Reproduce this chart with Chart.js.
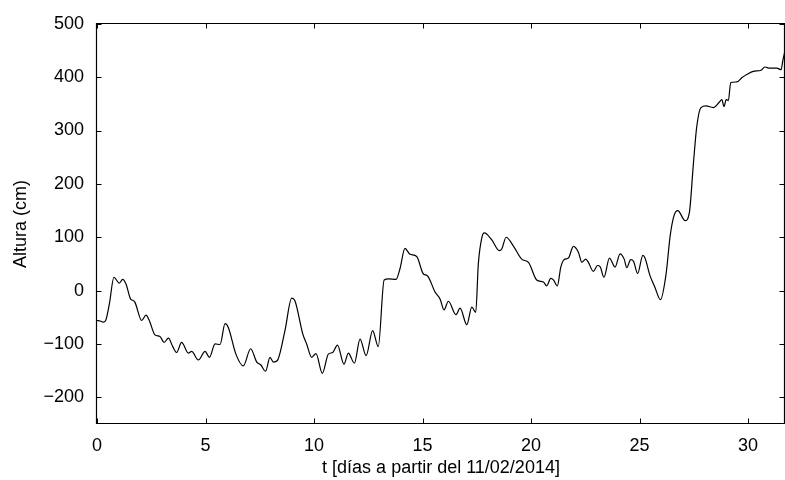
<!DOCTYPE html>
<html>
<head>
<meta charset="utf-8">
<script src="https://cdn.jsdelivr.net/npm/chart.js@4/dist/chart.umd.min.js"></script>
<style>
  html, body { margin: 0; padding: 0; background: #fff; }
  #wrap { width: 785px; height: 480px; }
</style>
</head>
<body>
<div id="wrap"><canvas id="c" width="785" height="480"></canvas></div>
<script>
// ---- data ----
const tDays = [
  0, 0.15, 0.29, 0.4, 0.57, 0.78, 1.03, 1.18, 1.34, 1.55, 1.65, 1.75, 2.06, 2.26, 2.41, 2.67, 2.9, 3.09, 3.29, 3.49,
  3.67, 3.9, 4.21, 4.36, 4.67, 4.98, 5.18, 5.44, 5.67, 5.9, 6.05, 6.4, 6.74, 7.08, 7.36, 7.54, 7.77, 7.97, 8.13, 8.31,
  8.66, 8.97, 9.12, 9.48, 9.66, 9.89, 10.09, 10.38, 10.66, 10.86, 11.08, 11.38, 11.58, 11.86, 12.12, 12.4, 12.7, 12.96, 13.23, 13.43,
  13.78, 13.96, 14.19, 14.42, 14.73, 15.04, 15.22, 15.58, 15.81, 15.99, 16.19, 16.54, 16.73, 17.04, 17.27, 17.45, 17.57, 17.73, 17.85, 18.19,
  18.54, 18.65, 18.85, 19.18, 19.57, 19.88, 20.26, 20.57, 20.72, 20.91, 21.03, 21.21, 21.37, 21.52, 21.72, 21.95, 22.18, 22.34, 22.52, 22.64,
  22.87, 23.06, 23.18, 23.36, 23.61, 23.87, 24.1, 24.29, 24.41, 24.59, 24.72, 24.91, 25.15, 25.25, 25.48, 25.71, 25.96, 26.22, 26.41, 26.59,
  26.76, 27.1, 27.29, 27.48, 27.63, 27.83, 28.06, 28.4, 28.67, 28.79, 28.89, 28.99, 29.09, 29.2, 29.48, 29.71, 29.94, 30.24, 30.6, 30.77,
  31.0, 31.32, 31.52, 31.6, 31.7
];
const alturaCm = [
  -56, -57, -59, -56, -25, 25, 14, 21, 12, -16, -18, -22, -56, -46, -56, -83, -86, -97, -89, -105,
  -116, -97, -117, -114, -130, -114, -125, -100, -101, -62, -69, -119, -141, -109, -134, -139, -151, -125, -134, -131,
  -75, -14, -19, -81, -100, -125, -118, -155, -119, -116, -102, -138, -117, -136, -91, -122, -75, -105, 20, 22,
  21, 41, 79, 68, 64, 31, 28, -3, -16, -36, -20, -45, -33, -64, -31, -41, 50, 99, 108, 95,
  75, 78, 100, 84, 59, 53, 20, 16, 9, 23, 20, 9, 44, 58, 61, 83, 72, 53, 59, 53,
  36, 47, 45, 25, 61, 44, 69, 59, 43, 58, 55, 32, 66, 61, 28, 6, -17, 31, 103, 141,
  150, 131, 145, 238, 306, 343, 346, 343, 353, 358, 345, 358, 356, 390, 391, 399, 405, 411, 413, 419,
  417, 417, 414, 431, 450
];
const xTickValues = [0, 5, 10, 15, 20, 25, 30];
const yTickValues = [-200, -100, 0, 100, 200, 300, 400, 500];
const xTitle = 't [días a partir del 11/02/2014]';
const yTitle = 'Altura (cm)';

const FONT = "'Liberation Sans', Arial, Helvetica, sans-serif";

const framePlugin = {
  id: 'frame',
  afterDraw(chart) {
    const ctx = chart.ctx;
    const a = chart.chartArea;
    const xs = chart.scales.x, ys = chart.scales.y;
    const L = Math.round(a.left) - 0.5, R = Math.min(Math.round(a.right), 785) - 0.5;
    const T = Math.round(a.top) - 0.5, B = Math.round(a.bottom) - 0.5;
    ctx.save();
    ctx.strokeStyle = '#000';
    ctx.lineWidth = 1.2;
    ctx.beginPath();
    ctx.moveTo(L, T); ctx.lineTo(R, T); ctx.lineTo(R, B); ctx.lineTo(L, B); ctx.closePath();
    ctx.stroke();
    ctx.lineWidth = 1;
    const tl = 5;
    ctx.beginPath();
    xs.ticks.forEach(t => {
      const p = Math.round(xs.getPixelForValue(t.value)) + 0.5;
      ctx.moveTo(p, B); ctx.lineTo(p, B - tl);
      ctx.moveTo(p, T); ctx.lineTo(p, T + tl);
    });
    ys.ticks.forEach(t => {
      const p = Math.round(ys.getPixelForValue(t.value)) + 0.5;
      ctx.moveTo(L, p); ctx.lineTo(L + tl, p);
      ctx.moveTo(R, p); ctx.lineTo(R - tl, p);
    });
    ctx.stroke();
    ctx.restore();
  }
};

new Chart(document.getElementById('c'), {
  type: 'line',
  data: {
    datasets: [{
      data: tDays.map((t, i) => ({ x: t, y: alturaCm[i] })),
      borderColor: '#000',
      borderWidth: 1.2,
      pointRadius: 0,
      cubicInterpolationMode: 'monotone',
      fill: false
    }]
  },
  options: {
    responsive: false,
    animation: false,
    events: [],
    layout: { padding: { top: 23, right: 0, left: 0, bottom: 0 } },
    plugins: { legend: { display: false }, tooltip: { enabled: false } },
    scales: {
      x: {
        type: 'linear',
        min: 0,
        max: 31.7,
        afterBuildTicks: s => { s.ticks = xTickValues.map(v => ({ value: v })); },
        afterFit: s => { s.height = 56; },
        grid: { display: false, drawTicks: false },
        border: { display: false },
        ticks: {
          color: '#000',
          padding: 11,
          maxRotation: 0,
          font: { family: FONT, size: 18 },
          callback: v => String(v)
        },
        title: {
          display: true,
          text: xTitle,
          color: '#000',
          font: { family: FONT, size: 18 },
          padding: { top: 0, bottom: 1 }
        }
      },
      y: {
        min: -250,
        max: 500,
        afterBuildTicks: s => { s.ticks = yTickValues.map(v => ({ value: v })); },
        afterFit: s => { s.width = 97; },
        grid: { display: false, drawTicks: false },
        border: { display: false },
        ticks: {
          color: '#000',
          padding: 13,
          font: { family: FONT, size: 18 },
          callback: v => (v < 0 ? '\u2212' + Math.abs(v) : String(v))
        },
        title: {
          display: true,
          text: yTitle,
          color: '#000',
          font: { family: FONT, size: 18 },
          padding: { top: 10, bottom: 0 }
        }
      }
    }
  },
  plugins: [framePlugin]
});
</script>
</body>
</html>
